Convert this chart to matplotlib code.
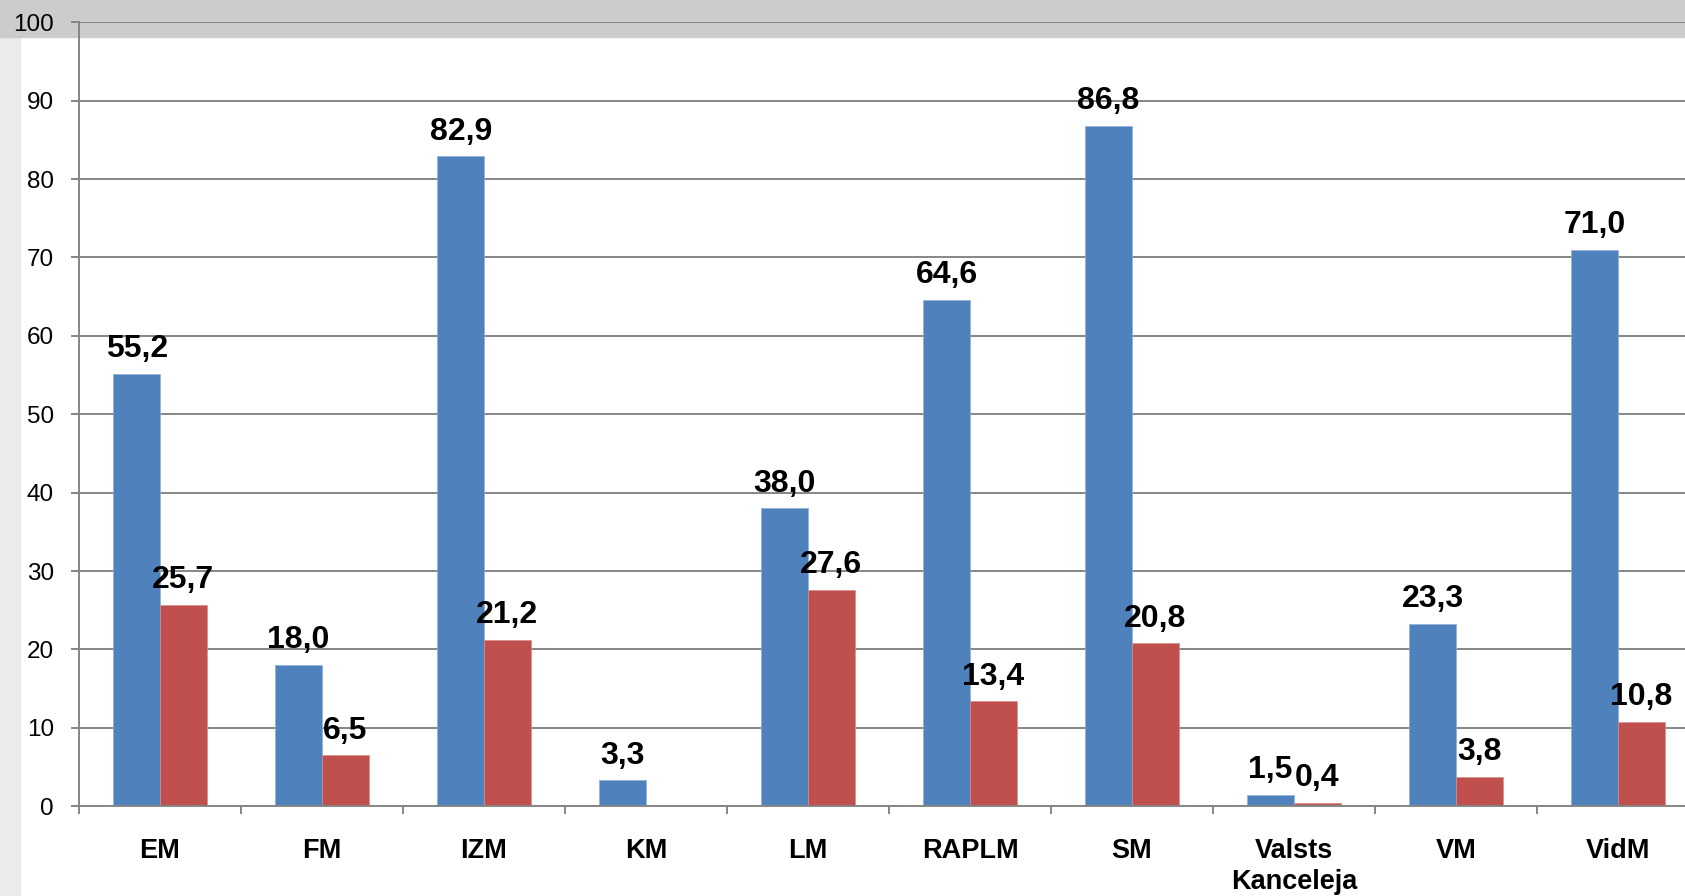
import numpy as np
import matplotlib.pyplot as plt
from matplotlib.patches import Rectangle

plt.rcParams['font.family'] = ['Liberation Sans', 'DejaVu Sans']

categories = ['EM', 'FM', 'IZM', 'KM', 'LM', 'RAPLM', 'SM', 'Valsts\nKanceleja', 'VM', 'VidM']
blue_vals = [55.2, 18.0, 82.9, 3.3, 38.0, 64.6, 86.8, 1.5, 23.3, 71.0]
red_vals = [25.7, 6.5, 21.2, None, 27.6, 13.4, 20.8, 0.4, 3.8, 10.8]
y_ticks = [0, 10, 20, 30, 40, 50, 60, 70, 80, 90, 100]

blue = '#4f81bd'
red = '#c0504d'
grid_c = '#868686'

fig = plt.figure(figsize=(16.85, 8.96), dpi=100)

# background bands (grey strip at top, light strip on the left)
fig.patches.append(Rectangle((0, 0), 20 / 1685, 1, transform=fig.transFigure,
                             color='#ebebeb', zorder=-2))
fig.patches.append(Rectangle((0, 1 - 37 / 896), 1, 37 / 896, transform=fig.transFigure,
                             color='#cccccc', zorder=-1))

# plot area runs off the right edge of the picture
ax = fig.add_axes([79 / 1685, 89.7 / 896, 1620 / 1685, 784 / 896])
ax.set_facecolor('none')

x = np.arange(len(categories))
w = 0.288

bv = np.array(blue_vals, dtype=float)
rv = np.array([np.nan if v is None else v for v in red_vals], dtype=float)

ax.bar(x - w / 2, bv, w, color=blue, edgecolor='#8fb0d8', linewidth=0.5, zorder=3)
ax.bar(x + w / 2, rv, w, color=red, edgecolor='#d98c8a', linewidth=0.5, zorder=3)

def fmt(v):
    return f'{v:.1f}'.replace('.', ',')

for xi, v in zip(x, bv):
    ax.annotate(fmt(v), (xi - w / 2, v), xytext=(0, 7), textcoords='offset points',
                ha='center', va='bottom', fontsize=23, fontweight='bold', zorder=4)
for xi, v in zip(x, rv):
    if np.isnan(v):
        continue
    ax.annotate(fmt(v), (xi + w / 2, v), xytext=(0, 7), textcoords='offset points',
                ha='center', va='bottom', fontsize=23, fontweight='bold', zorder=4)

ax.set_xlim(-0.5, len(categories) - 0.5)
ax.set_ylim(0, 100)
ax.set_yticks(y_ticks)
ax.yaxis.grid(True, color=grid_c, linewidth=1.4, zorder=1)
ax.set_axisbelow(True)

ax.set_xticks(x)
ax.set_xticklabels(categories, fontsize=19.5, fontweight='bold', linespacing=1.25)
ax.set_xticks(np.arange(len(categories) + 1) - 0.5, minor=True)
ax.tick_params(axis='x', which='major', length=0, pad=22.5)
ax.tick_params(axis='x', which='minor', length=6, width=1.4, color=grid_c, direction='out')
ax.tick_params(axis='y', length=6, width=1.4, color=grid_c, labelsize=17.5, pad=12)

for s in ['top', 'right']:
    ax.spines[s].set_visible(False)
for s in ['left', 'bottom']:
    ax.spines[s].set_color(grid_c)
    ax.spines[s].set_linewidth(1.4)
ax.spines['bottom'].set_zorder(5)

fig.savefig('out.png', dpi=100)
